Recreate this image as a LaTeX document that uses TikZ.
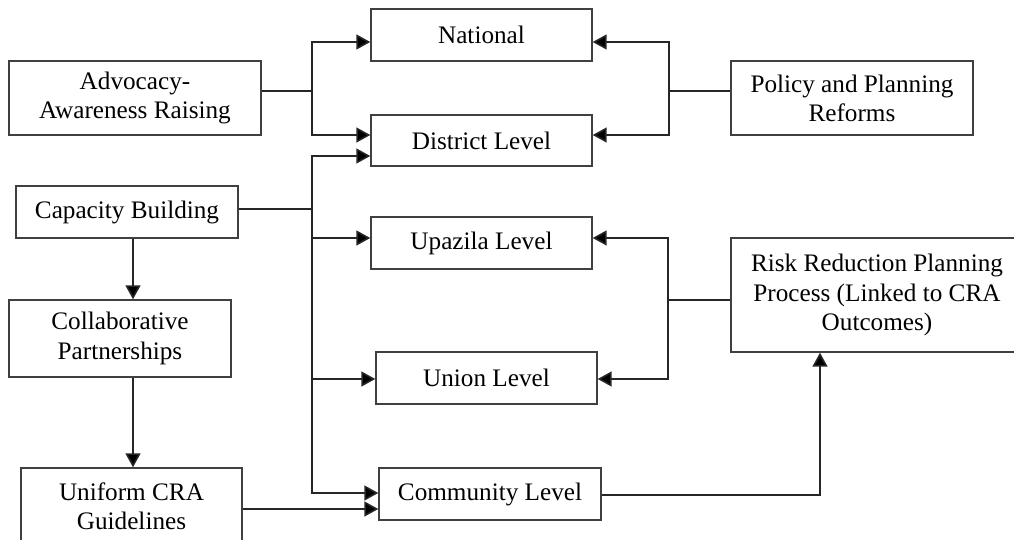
\documentclass[tikz,border=0pt]{standalone}
\usepackage{fontspec}
\setmainfont{Liberation Serif}
\usetikzlibrary{arrows.meta,calc}

\begin{document}
\begin{tikzpicture}[x=0.5pt, y=-0.5pt,
    box/.style={draw=black!75, line width=0.7pt, rectangle, align=center,
        inner sep=0pt, font=\fontsize{12.6pt}{14.6pt}\selectfont},
    link/.style={draw=black!85, line width=0.8pt},
    arr/.style={link, -{Triangle[length=7pt,width=7.5pt,fill=black]}}]
    % fix the page to the picture
    \useasboundingbox (0,0) rectangle (1014,540);
    \clip (0,0) rectangle (1014,540);

    % the levels in the middle
    \node[box, minimum width=110.5pt, minimum height=26pt] (nat) at (481.5,35) {National};
    \node[box, minimum width=110.5pt, minimum height=25.5pt] (dist) at (481.5,140.5) {District Level};
    \node[box, minimum width=110.5pt, minimum height=26pt] (upa) at (481.5,243) {Upazila Level};
    \node[box, minimum width=110.5pt, minimum height=26pt] (uni) at (486.5,378) {Union Level};
    \node[box, minimum width=111pt, minimum height=26pt] (com) at (490,494) {Community Level};

    % the boxes on the left
    \node[box, minimum width=126pt, minimum height=37pt] (adv) at (135,98) {Advocacy-\\Awareness Raising};
    \node[box, minimum width=111pt, minimum height=26pt] (cap) at (127,212) {Capacity Building};
    \node[box, minimum width=111pt, minimum height=38.5pt] (col) at (120,338.5) {Collaborative\\Partnerships};
    \node[box, minimum width=110.5pt, minimum height=38.5pt] (unf) at (131.5,506.5) {Uniform CRA\\Guidelines};

    % the boxes on the right
    \node[box, minimum width=121pt, minimum height=37pt] (pol) at (852,98) {Policy and Planning\\Reforms};
    \node[box, minimum width=146pt, minimum height=57pt] (risk) at (877,295) {Risk Reduction Planning\\Process (Linked to CRA\\Outcomes)};

    % the points where the lines split
    \coordinate (advj) at (312,91);
    \coordinate (capj) at (312,209);
    \coordinate (polj) at (669,91);
    \coordinate (riskj) at (668,300);
    \coordinate (colx) at (133,0);
    \coordinate (unfy) at (0,509);
    \coordinate (riskx) at (820,0);

    % advocacy to national and district
    \draw[link] (adv.east |- advj) -- (advj);
    \draw[arr] (advj) |- ($(nat.west)+(0,7)$);
    \draw[arr] (advj) |- ($(dist.west)+(0,-5.5)$);

    % capacity building to all levels below national
    \draw[link] (cap.east |- capj) -- (capj);
    \draw[arr] (capj) |- ($(dist.west)+(0,15.5)$);
    \draw[arr] (capj) |- ($(upa.west)+(0,-5)$);
    \draw[arr] (capj) |- ($(uni.west)+(0,1)$);
    \draw[arr] (capj) |- ($(com.west)+(0,-1)$);

    % policy to national and district
    \draw[link] (pol.west |- polj) -- (polj);
    \draw[arr] (polj) |- ($(nat.east)+(0,7)$);
    \draw[arr] (polj) |- ($(dist.east)+(0,-5.5)$);

    % risk reduction to upazila and union
    \draw[link] (risk.west |- riskj) -- (riskj);
    \draw[arr] (riskj) |- ($(upa.east)+(0,-5)$);
    \draw[arr] (riskj) |- ($(uni.east)+(0,1)$);

    % the chain on the left
    \draw[arr] (cap.south -| colx) -- (col.north -| colx);
    \draw[arr] (col.south -| colx) -- (unf.north -| colx);
    \draw[arr] (unf.east |- unfy) -- (com.west |- unfy);

    % community back to risk reduction
    \draw[arr] ($(com.east)+(0,1)$) -| (risk.south -| riskx);
\end{tikzpicture}
\end{document}
